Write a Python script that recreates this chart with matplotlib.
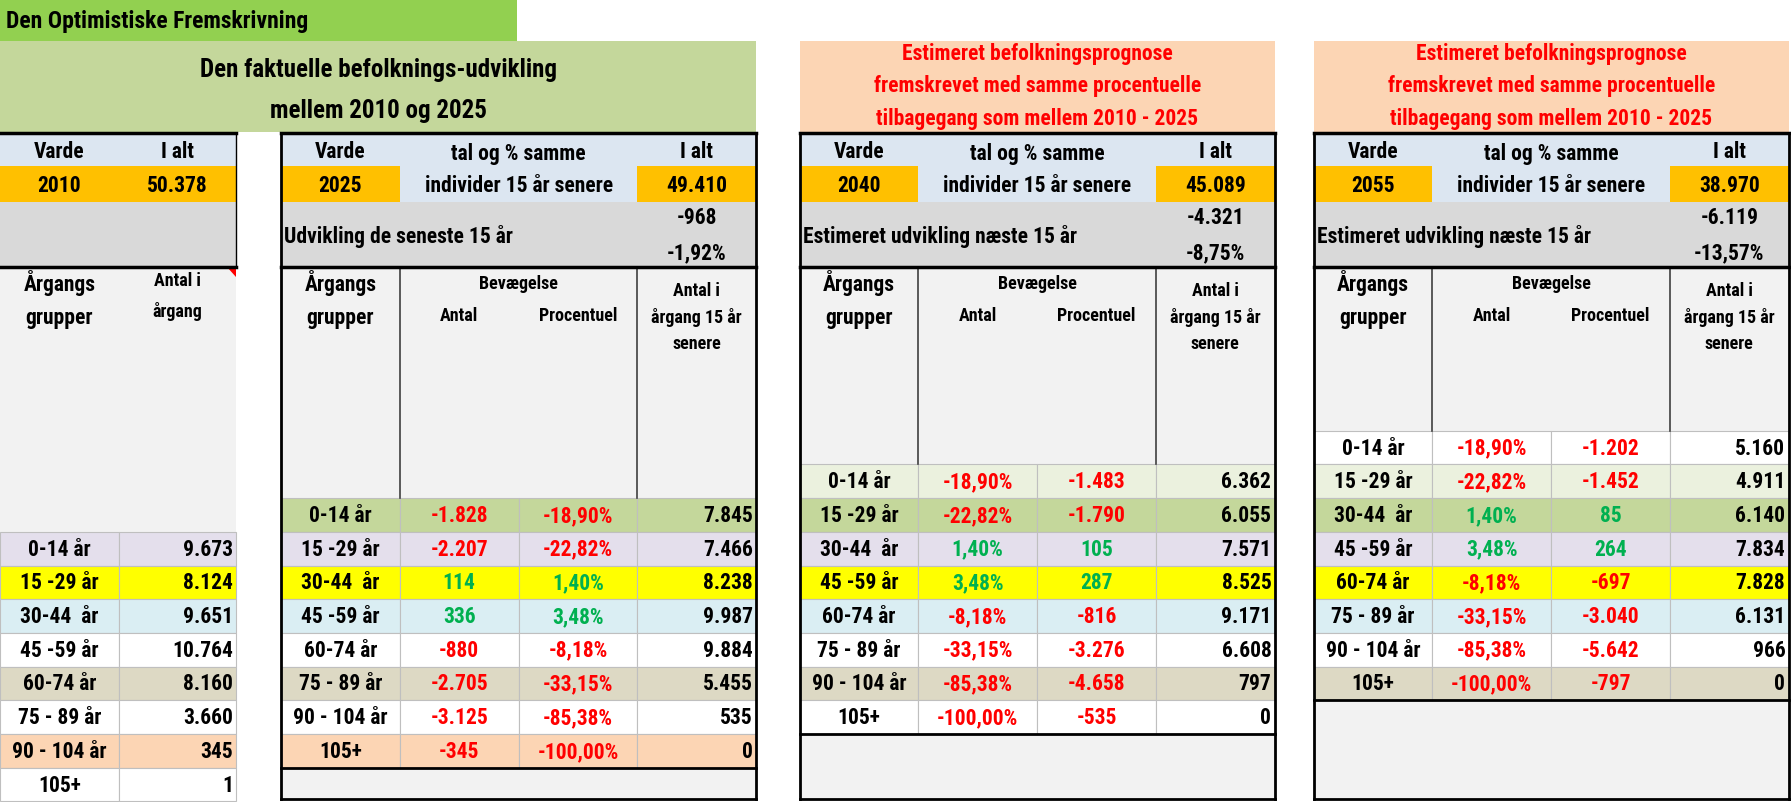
import matplotlib
matplotlib.use("Agg")
import matplotlib.pyplot as plt
from matplotlib.patches import Rectangle, Polygon
from matplotlib import font_manager

groups = ['0-14 år', '15 -29 år', '30-44  år', '45 -59 år', '60-74 år', '75 - 89 år', '90 - 104 år', '105+']
groups1 = ['0-14 år', '15 -29 år', '30-44  år', '45 -59 år', '60-74 år', '75 - 89 år', '90 - 104 år', '105+']
pop2010 = [9673, 8124, 9651, 10764, 8160, 3660, 345, 1]
pct = [-18.90, -22.82, 1.40, 3.48, -8.18, -33.15, -85.38, -100.00]
chg2025 = [-1828, -2207, 114, 336, -880, -2705, -3125, -345]
pop2025 = [7845, 7466, 8238, 9987, 9884, 5455, 535, 0]
chg2040 = [-1483, -1790, 105, 287, -816, -3276, -4658, -535]
pop2040 = [6362, 6055, 7571, 8525, 9171, 6608, 797, 0]
chg2055 = [-1202, -1452, 85, 264, -697, -3040, -5642, -797]
pop2055 = [5160, 4911, 6140, 7834, 7828, 6131, 966, 0]
years = ['2010', '2025', '2040', '2055']
totals = [50378, 49410, 45089, 38970]
diff_n = [-968, -4321, -6119]
diff_p = [-1.92, -8.75, -13.57]

names = [f.name for f in font_manager.fontManager.ttflist]
FAM = ['Liberation Sans Narrow', 'DejaVu Sans'] if 'Liberation Sans Narrow' in names else ['Roboto Condensed', 'DejaVu Sans']
if FAM[0] not in names:
    FAM = ['Roboto', 'DejaVu Sans']
plt.rcParams['font.family'] = FAM

W, H = 1568, 703
fig = plt.figure(figsize=(17.91, 8.03), dpi=100)
ax = fig.add_axes([0, 0, 1, 1])
ax.set_xlim(0, W); ax.set_ylim(H, 0); ax.axis('off')

RED = '#FF0000'; GRN = '#00B050'
C_LB = '#DCE6F1'; C_OR = '#FFC000'; C_GR = '#D9D9D9'; C_HD = '#F2F2F2'
slot_colors = ['#FFFFFF', '#EBF1DE', '#C4D79B', '#E4DFEC', '#FFFF00', '#DAEEF3',
               '#FFFFFF', '#DDD9C4', '#FFFFFF', '#FCD5B4', '#FFFFFF']
RH = 29.5; Y0 = 378
FS = 15.5

def dk(n):
    s = f"{abs(n):,}".replace(',', '.')
    return ('-' if n < 0 else '') + s

def dp(p):
    return f"{p:.2f}".replace('.', ',') + '%'

def rect(x0, y0, x1, y1, fc, ec='#BFBFBF', lw=0.8, z=1):
    ax.add_patch(Rectangle((x0, y0), x1 - x0, y1 - y0, fc=fc, ec=ec, lw=lw, zorder=z))

def txt(x, y, s, ha='center', color='black', fs=FS, bold=True):
    ax.text(x, y, s, ha=ha, va='center', color=color, fontsize=fs,
            fontweight='bold' if bold else 'normal', zorder=5)

def col(v):
    return GRN if v > 0 else RED

# titles
rect(0, 0, 453, 37, '#92D050', ec='none')
txt(5, 19, 'Den Optimistiske Fremskrivning', ha='left', fs=17)
rect(0, 37, 662, 116, '#C4D79B', ec='none')
txt(331, 61, 'Den faktuelle befolknings-udvikling', fs=18)
txt(331, 97, 'mellem 2010 og 2025', fs=18)
for x0 in (700, 1150):
    rect(x0, 37, x0 + 416, 116, '#FCD5B4', ec='none')
    for i, s in enumerate(['Estimeret befolkningsprognose', 'fremskrevet med samme procentuelle',
                           'tilbagegang som mellem 2010 - 2025']):
        txt(x0 + 208, 46 + 28.5 * i + 1, s, color=RED, fs=15.5)

# panel 1
rect(0, 118, 207, 146, C_LB, ec='none')
rect(0, 146, 207, 178, C_OR, ec='none')
rect(0, 178, 207, 235, C_GR, ec='none')
txt(52, 133, 'Varde'); txt(155, 133, 'I alt')
txt(52, 163, years[0]); txt(155, 163, dk(totals[0]))
start1 = Y0 + 3 * RH
rect(0, 235, 207, start1, C_HD, ec='none')
txt(52, 248, 'Årgangs'); txt(52, 278, 'grupper')
txt(155, 246, 'Antal i', fs=13); txt(155, 273, 'årgang', fs=13)
ax.add_patch(Polygon([[199, 235], [207, 235], [207, 243]], fc=RED, ec='none', zorder=6))
for i in range(8):
    y0 = start1 + i * RH
    fc = slot_colors[3 + i]
    rect(0, y0, 104, y0 + RH, fc); rect(104, y0, 207, y0 + RH, fc)
    txt(52, y0 + RH / 2, groups1[i])
    txt(204, y0 + RH / 2, dk(pop2010[i]), ha='right')
ax.plot([0, 207], [117, 117], color='black', lw=2.5, zorder=7)
ax.plot([0, 207], [235, 235], color='black', lw=2.5, zorder=7)
ax.plot([207, 207], [117, 235], color='black', lw=1, zorder=7)

# panels 2-4
def panel(x0, k, first, second, pops, firstpct):
    xs = [x0, x0 + 104, x0 + 208, x0 + 312, x0 + 416]
    rect(x0, 118, x0 + 416, 146, C_LB, ec='none')
    rect(x0, 146, x0 + 104, 178, C_OR, ec='none')
    rect(x0 + 104, 146, x0 + 312, 178, C_LB, ec='none')
    rect(x0 + 312, 146, x0 + 416, 178, C_OR, ec='none')
    rect(x0, 178, x0 + 416, 235, C_GR, ec='none')
    txt(x0 + 52, 133, 'Varde'); txt(x0 + 208, 135, 'tal og % samme'); txt(x0 + 364, 133, 'I alt')
    txt(x0 + 52, 163, years[k]); txt(x0 + 208, 163, 'individer 15 år senere'); txt(x0 + 364, 163, dk(totals[k]))
    lbl = 'Udvikling de seneste 15 år' if k == 1 else 'Estimeret udvikling næste 15 år'
    txt(x0 + 3, 207, lbl, ha='left')
    txt(x0 + 364, 191, dk(diff_n[k - 1])); txt(x0 + 364, 222, dp(diff_p[k - 1]))
    start = Y0 + (3 - k) * RH
    rect(x0, 235, x0 + 416, start, C_HD, ec='none')
    end = start + 8 * RH
    rect(x0, end, x0 + 416, 700, C_HD, ec='none')
    txt(x0 + 52, 248, 'Årgangs'); txt(x0 + 52, 278, 'grupper')
    txt(x0 + 208, 249, 'Bevægelse', fs=13)
    txt(x0 + 156, 277, 'Antal', fs=13); txt(x0 + 260, 277, 'Procentuel', fs=13)
    txt(x0 + 364, 255, 'Antal i', fs=13); txt(x0 + 364, 278, 'årgang 15 år', fs=13)
    txt(x0 + 364, 301, 'senere', fs=13)
    for xv in (xs[1], xs[3]):
        ax.plot([xv, xv], [235, start], color='#404040', lw=1.2, zorder=4)
    for i in range(8):
        y0 = start + i * RH
        fc = slot_colors[3 - k + i]
        for c in range(4):
            rect(xs[c], y0, xs[c + 1], y0 + RH, fc)
        yc = y0 + RH / 2
        txt(x0 + 52, yc, groups[i])
        a = dk(first[i]); b = dp(second[i])
        if firstpct:
            a, b = dp(second[i]), dk(first[i])
        txt(x0 + 156, yc, a, color=col(first[i]))
        txt(x0 + 260, yc, b, color=col(first[i]))
        txt(x0 + 413, yc, dk(pops[i]), ha='right')
    ax.plot([x0, x0 + 416], [117, 117], color='black', lw=2.5, zorder=7)
    ax.plot([x0, x0 + 416], [235, 235], color='black', lw=2.5, zorder=7)
    ax.plot([x0, x0 + 416], [end, end], color='black', lw=2, zorder=7)
    ax.plot([x0, x0 + 416], [700, 700], color='black', lw=2, zorder=7)
    ax.plot([x0, x0], [117, 700], color='black', lw=2, zorder=7)
    ax.plot([x0 + 416, x0 + 416], [117, 700], color='black', lw=2, zorder=7)

panel(246, 1, chg2025, pct, pop2025, False)
panel(700, 2, chg2040, pct, pop2040, True)
panel(1150, 3, chg2055, pct, pop2055, True)

fig.savefig('out.png', dpi=100)
